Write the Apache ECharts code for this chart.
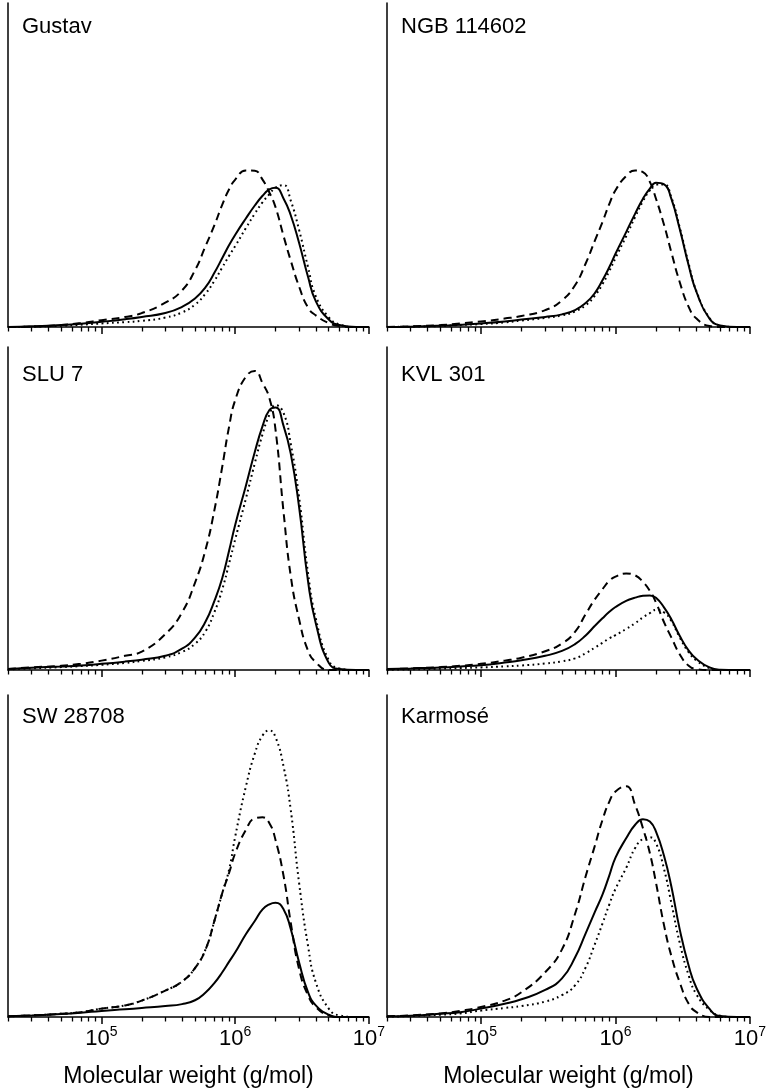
<!DOCTYPE html>
<html>
<head>
<meta charset="utf-8">
<script src="https://cdn.jsdelivr.net/npm/echarts@6/dist/echarts.min.js"></script>
<style>
html, body { margin: 0; padding: 0; background: #fff; }
#main { width: 767px; height: 1091px; }
</style>
</head>
<body>
<div id="main"></div>
<script>
// molecular weight grid (g/mol), shared by every curve
const mw = [2e4, 3e4, 5e4, 7e4, 1e5, 1.5e5, 2e5, 3e5, 4e5, 5e5, 6e5, 7e5, 8e5, 9e5, 1e6,
	1.2e6, 1.4e6, 1.6e6, 1.8e6, 2e6, 2.3e6, 2.6e6, 3e6, 3.5e6, 4e6, 5e6, 6e6, 8e6, 1e7];

const panelNames = ['Gustav', 'NGB 114602', 'SLU 7', 'KVL 301', 'SW 28708', 'Karmosé'];
const majorTicks = [1e5, 1e6, 1e7];
const minorTicks = [2e4, 3e4, 4e4, 5e4, 6e4, 7e4, 8e4, 9e4,
	2e5, 3e5, 4e5, 5e5, 6e5, 7e5, 8e5, 9e5,
	2e6, 3e6, 4e6, 5e6, 6e6, 7e6, 8e6, 9e6];

const gustavSolid = [0, 0.2, 0.6, 1.0, 1.6, 2.4, 3.1, 4.3, 6.2, 8.8, 12.3, 16.8, 21.3, 25.3, 28.5, 33.5, 37.5, 40.5, 42.5, 43.0, 39.6, 34.5, 26.0, 15.5, 8.0, 2.3, 0.6, 0, 0];
const gustavDashed = [0, 0.1, 0.6, 1.2, 2.1, 3.1, 4.3, 7.5, 11.3, 17.5, 25.0, 31.5, 37.8, 42.5, 45.5, 48.3, 48.2, 45.5, 41.5, 37.0, 28.0, 20.5, 12.5, 6.0, 3.6, 1.2, 0.3, 0, 0];
const gustavDotted = [0, 0.1, 0.4, 0.7, 1.1, 1.5, 1.9, 2.9, 4.5, 6.9, 10.3, 14.3, 18.4, 22.0, 25.0, 30.5, 35.0, 38.5, 41.0, 43.0, 43.8, 39.0, 30.0, 18.5, 9.5, 3.0, 0.8, 0, 0];

const ngbSolid = [0, 0.1, 0.4, 0.7, 1.1, 1.7, 2.3, 3.1, 3.9, 5.2, 7.4, 10.4, 14.4, 18.5, 22.6, 29.3, 35.0, 39.6, 42.7, 44.5, 44.0, 39.6, 30.3, 19.0, 10.8, 2.6, 0.5, 0, 0];
const ngbDashed = [0, 0.2, 0.6, 1.1, 1.7, 2.6, 3.4, 5.2, 8.2, 12.9, 19.6, 26.5, 32.4, 38.0, 42.2, 46.6, 48.3, 47.8, 44.8, 39.6, 31.4, 23.1, 13.9, 6.2, 2.6, 0.3, 0, 0, 0];
const ngbDotted = [0, 0.1, 0.3, 0.6, 0.9, 1.4, 2.0, 2.8, 3.6, 4.8, 6.7, 9.6, 13.2, 17.3, 21.3, 28.0, 34.0, 38.8, 42.2, 44.0, 44.0, 40.0, 30.8, 19.5, 11.0, 2.8, 0.5, 0, 0];

const sluSolid = [0.3, 0.7, 1.1, 1.4, 1.9, 2.6, 3.2, 4.4, 6.6, 10.0, 15.0, 21.5, 28.5, 37.0, 45.0, 57.0, 67.5, 75.5, 80.5, 81.3, 75.5, 67.0, 50.5, 27.5, 14.5, 2.2, 0.3, 0, 0];
const sluDashed = [0.3, 0.8, 1.3, 1.9, 2.9, 4.4, 5.7, 11.1, 17.8, 27.0, 37.3, 49.7, 63.0, 75.4, 83.6, 90.8, 92.6, 88.8, 84.2, 74.4, 48.7, 29.1, 15.7, 6.0, 2.4, 0, 0, 0, 0];
const sluDotted = [0.2, 0.5, 0.9, 1.2, 1.6, 2.2, 2.8, 3.9, 5.6, 8.1, 12.0, 18.0, 25.0, 33.0, 40.5, 53.0, 64.0, 73.0, 79.0, 82.0, 79.5, 70.0, 53.5, 30.0, 16.0, 3.0, 0.5, 0, 0];

const kvlSolid = [0.3, 0.5, 0.8, 1.1, 1.5, 2.3, 3.0, 4.4, 5.9, 8.0, 10.7, 13.6, 16.0, 18.0, 19.5, 21.4, 22.4, 23.0, 23.1, 22.4, 19.3, 15.7, 10.6, 6.0, 3.4, 0.8, 0.1, 0, 0];
const kvlDashed = [0.2, 0.5, 0.9, 1.3, 1.9, 2.9, 3.8, 5.8, 8.2, 11.8, 17.3, 21.8, 25.0, 27.6, 28.9, 29.9, 29.3, 27.3, 24.5, 20.9, 14.7, 10.1, 4.9, 1.3, 0.3, 0, 0, 0, 0];
const kvlDotted = [0.1, 0.2, 0.4, 0.6, 0.8, 1.1, 1.4, 2.0, 2.7, 3.6, 5.2, 6.9, 8.4, 9.8, 10.8, 12.7, 14.5, 16.3, 17.6, 18.6, 17.8, 15.2, 10.1, 5.5, 2.9, 0.6, 0, 0, 0];

const swSolid = [0.2, 0.5, 0.9, 1.3, 1.9, 2.4, 2.8, 3.4, 4.0, 5.2, 7.6, 10.6, 13.9, 17.2, 20.1, 25.7, 29.8, 33.4, 35.0, 35.5, 33.4, 27.3, 17.0, 7.7, 3.6, 0.7, 0, 0, 0];
const swDashed = [0.2, 0.5, 1.0, 1.5, 2.6, 3.6, 5.1, 8.2, 11.0, 15.2, 21.0, 30.0, 38.5, 44.8, 50.9, 58.1, 61.7, 62.0, 60.2, 55.0, 43.7, 29.3, 14.9, 6.7, 3.1, 0.5, 0, 0, 0];
const swDotted = [0.2, 0.5, 1.0, 1.5, 2.6, 3.6, 5.1, 8.2, 11.0, 15.2, 21.0, 30.0, 38.5, 45.8, 56.1, 71.5, 81.8, 87.4, 89.0, 86.9, 77.7, 64.3, 41.7, 22.1, 10.8, 2.6, 0.5, 0, 0];

const karSolid = [0.2, 0.4, 1.0, 1.5, 2.6, 4.1, 5.5, 8.4, 12.0, 18.5, 26.0, 32.5, 38.0, 44.0, 49.5, 55.5, 59.7, 61.4, 60.7, 57.6, 49.9, 40.6, 27.3, 15.9, 9.0, 2.5, 0.3, 0, 0];
const karDashed = [0.2, 0.5, 1.1, 1.9, 3.1, 5.1, 7.7, 13.9, 21.0, 32.0, 43.7, 53.0, 61.2, 66.9, 70.0, 71.7, 65.8, 58.6, 50.9, 41.7, 28.3, 19.0, 10.8, 4.1, 1.5, 0, 0, 0, 0];
const karDotted = [0.1, 0.3, 0.7, 1.1, 2.0, 2.8, 3.4, 4.8, 6.8, 9.8, 15.4, 22.5, 29.0, 35.0, 39.8, 46.3, 52.5, 55.3, 55.8, 54.0, 45.8, 35.5, 23.1, 12.9, 7.0, 2.2, 0.4, 0, 0];

const panelCurves = [
	[gustavSolid, gustavDashed, gustavDotted],
	[ngbSolid, ngbDashed, ngbDotted],
	[sluSolid, sluDashed, sluDotted],
	[kvlSolid, kvlDashed, kvlDotted],
	[swSolid, swDashed, swDotted],
	[karSolid, karDashed, karDotted]
];

// layout
const FONT = 'Liberation Sans, Arial, Helvetica, sans-serif';
const colLeft = [8, 387];
const colWidth = [361, 363];
const rowTop = [3, 347, 695];
const rowBottom = [327, 670, 1017];
const titleTop = [16, 364, 706];

const lineStyles = [
	{ color: '#000', width: 2, type: 'solid' },
	{ color: '#000', width: 2, type: [8, 5] },
	{ color: '#000', width: 2, type: [1.8, 3.4] }
];

const grid = [], xAxis = [], yAxis = [], series = [], title = [];

panelNames.forEach((name, i) => {
	const row = Math.floor(i / 2), col = i % 2;
	const bottomRow = row === 2;
	grid.push({
		left: colLeft[col], top: rowTop[row],
		width: colWidth[col], height: rowBottom[row] - rowTop[row],
		outerBoundsMode: 'none'
	});
	title.push({
		text: name,
		left: colLeft[col] + 14, top: titleTop[row], padding: 0,
		textStyle: { fontFamily: FONT, fontSize: 22, fontWeight: 'normal', color: '#000' }
	});
	// major ticks + labels
	xAxis.push({
		gridIndex: i, type: 'log', logBase: 10, min: 2e4, max: 1e7, position: 'bottom',
		axisLine: { onZero: false, lineStyle: { color: '#000', width: 1.5 } },
		axisTick: { customValues: majorTicks, length: 7, lineStyle: { color: '#000', width: 1.5 } },
		axisLabel: {
			show: bottomRow, customValues: majorTicks, margin: 8,
			formatter: v => '{b|10}{s|' + Math.round(Math.log10(v)) + '}',
			rich: {
				b: { fontFamily: FONT, fontSize: 22, lineHeight: 28, color: '#000' },
				s: { fontFamily: FONT, fontSize: 14, lineHeight: 14, verticalAlign: 'top', color: '#000' }
			}
		},
		splitLine: { show: false },
		name: bottomRow ? 'Molecular weight (g/mol)' : '',
		nameLocation: 'middle', nameGap: 48,
		nameTextStyle: { fontFamily: FONT, fontSize: 23, color: '#000' }
	});
	// minor ticks
	xAxis.push({
		gridIndex: i, type: 'log', logBase: 10, min: 2e4, max: 1e7, position: 'bottom',
		axisLine: { show: false, onZero: false },
		axisTick: { customValues: minorTicks, length: 4.5, lineStyle: { color: '#000', width: 1.3 } },
		axisLabel: { show: false },
		splitLine: { show: false }
	});
	yAxis.push({
		gridIndex: i, type: 'value', min: 0, max: 100,
		axisLine: { show: true, onZero: false, lineStyle: { color: '#000', width: 1.5 } },
		axisTick: { show: false },
		axisLabel: { show: false },
		splitLine: { show: false }
	});
	panelCurves[i].forEach((vals, k) => {
		series.push({
			type: 'line',
			xAxisIndex: i * 2, yAxisIndex: i,
			data: mw.map((m, j) => [m, vals[j]]),
			smooth: 0.5,
			showSymbol: false,
			silent: true,
			lineStyle: lineStyles[k],
			z: 3 - k
		});
	});
});

const myChart = echarts.init(document.getElementById('main'), null, { renderer: 'canvas' });
myChart.setOption({
	animation: false,
	backgroundColor: '#fff',
	title: title,
	grid: grid,
	xAxis: xAxis,
	yAxis: yAxis,
	series: series
});
</script>
</body>
</html>
